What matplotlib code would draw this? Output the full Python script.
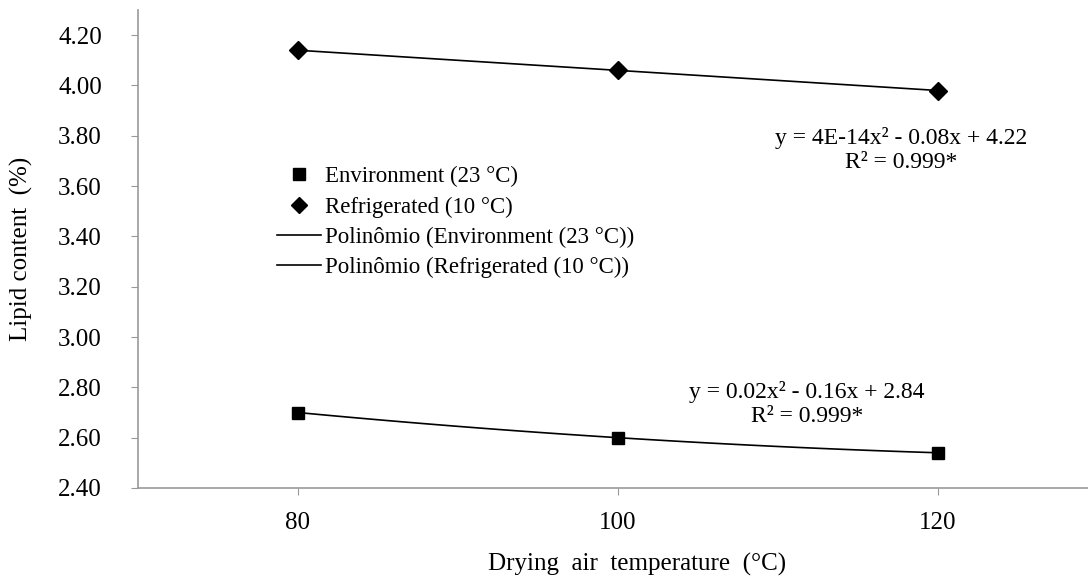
import numpy as np
import matplotlib
matplotlib.use("Agg")
import matplotlib.pyplot as plt
from matplotlib.lines import Line2D

plt.rcParams['font.family'] = ['Liberation Serif', 'DejaVu Serif']

categories = ["80", "100", "120"]
environment = [2.70, 2.60, 2.54]
refrigerated = [4.14, 4.06, 3.98]
y_ticks = [2.40, 2.60, 2.80, 3.00, 3.20, 3.40, 3.60, 3.80, 4.00, 4.20]
eq_env = ["y = 0.02x² - 0.16x + 2.84", "R² = 0.999*"]
eq_ref = ["y = 4E-14x² - 0.08x + 4.22", "R² = 0.999*"]

W, H = 1088, 584
fig = plt.figure(figsize=(W / 100, H / 100), dpi=100)
ax = fig.add_axes([138 / W, 1 - 488 / H, (W - 138) / W, (488 - 10) / H])

x = np.arange(1, len(categories) + 1)
xs = np.linspace(1, 3, 100)

# trendlines (2nd order polynomial like Excel)
for series in (environment, refrigerated):
    coef = np.polyfit(x, series, 2)
    ax.plot(xs, np.polyval(coef, xs), color='black', lw=1.2, zorder=2)

ax.plot(x, environment, ls='none', marker='s', ms=9, color='black', zorder=3)
ax.plot(x, refrigerated, ls='none', marker='D', ms=9.5, color='black', zorder=3)

ax.set_xlim(0.5, 0.5 + (W - 138) / 320)
ax.set_ylim(2.40, 4.30)
ax.set_xticks(x)
ax.set_xticklabels(categories)
ax.set_yticks(y_ticks)
ax.set_yticklabels([f"{v:.2f}" for v in y_ticks])

for s in ['top', 'right']:
    ax.spines[s].set_visible(False)
for s in ['left', 'bottom']:
    ax.spines[s].set_color('#999999')
    ax.spines[s].set_linewidth(1.2)
ax.tick_params(axis='both', colors='#999999', length=5, labelcolor='black', labelsize=18)
ax.tick_params(axis='y', pad=21)
ax.tick_params(axis='x', pad=12)

ax.set_xlabel("Drying  air  temperature  (°C)", fontsize=18)
ax.xaxis.set_label_coords(0.525, -0.136)
ax.set_ylabel("Lipid content  (%)", fontsize=18)
ax.yaxis.set_label_coords(-0.11, 0.5)

ax.text(2.59, 2.78, eq_env[0], fontsize=17, ha='center', va='center')
ax.text(2.59, 2.685, eq_env[1], fontsize=17, ha='center', va='center')
ax.text(2.884, 3.79, eq_ref[0], fontsize=17, ha='center', va='center')
ax.text(2.884, 3.695, eq_ref[1], fontsize=17, ha='center', va='center')

handles = [
    Line2D([], [], ls='none', marker='s', ms=8, color='black'),
    Line2D([], [], ls='none', marker='D', ms=8.5, color='black'),
    Line2D([], [], color='black', lw=1.2),
    Line2D([], [], color='black', lw=1.2),
]
labels = ["Environment (23 °C)", "Refrigerated (10 °C)",
          "Polinômio (Environment (23 °C))", "Polinômio (Refrigerated (10 °C))"]
fig.legend(handles, labels, loc='upper left', bbox_to_anchor=(268 / W, 1 - 157 / H),
           frameon=False, fontsize=16.5, handlelength=1.9, handletextpad=0.2,
           labelspacing=0.4, borderaxespad=0)

fig.savefig("out.png", dpi=100)
